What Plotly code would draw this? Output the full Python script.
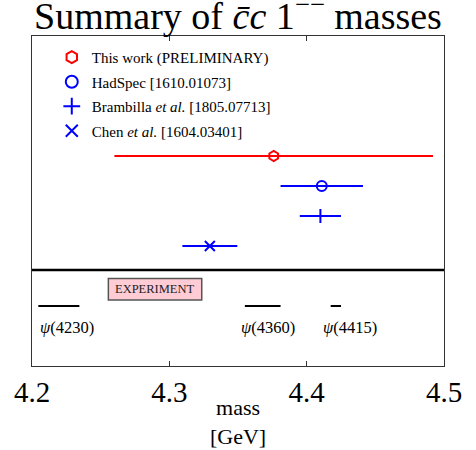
import plotly.graph_objects as go

# Lattice results: name, central mass, lower / upper error (GeV)
names = ["This work (PRELIMINARY)", "HadSpec [1610.01073]",
         "Brambilla <i>et al.</i> [1805.07713]", "Chen <i>et al.</i> [1604.03401]"]
mass = [4.376, 4.411, 4.410, 4.3295]
err_lo = [0.116, 0.030, 0.015, 0.020]
err_hi = [0.116, 0.030, 0.015, 0.020]
rows = [4, 3, 2, 1]
colors = ["#ff0000", "#0000ff", "#0000ff", "#0000ff"]
symbols = ["hexagon-open", "circle-open", "cross-thin", "x-thin"]
msizes = [10, 10, 10, 10]

# Experimental states: label, lower and upper extent (GeV)
exp_labels = ["<i>ψ</i>(4230)", "<i>ψ</i>(4360)", "<i>ψ</i>(4415)"]
exp_lo = [4.2046, 4.355, 4.4175]
exp_hi = [4.2345, 4.381, 4.425]
exp_label_x = [4.2046, 4.3505, 4.4105]

xticks = [4.2, 4.3, 4.4, 4.5]

FONT = "Liberation Serif"
fig = go.Figure()

for i, (n, m, lo, hi, r, c, s, ms) in enumerate(zip(names, mass, err_lo, err_hi, rows, colors, symbols, msizes)):
    fig.add_trace(go.Scatter(
        x=[m], y=[r], mode="markers", name=n, legendgroup=f"g{i}",
        marker=dict(symbol=s, size=ms, color=c, line=dict(color=c, width=2)),
        error_x=dict(type="data", symmetric=False, array=[hi], arrayminus=[lo],
                     color=c, thickness=2, width=0),
    ))

# experimental lines
ex, ey = [], []
for lo, hi in zip(exp_lo, exp_hi):
    ex += [lo, hi, None]
    ey += [-1, -1, None]
fig.add_trace(go.Scatter(x=ex, y=ey, mode="lines", line=dict(color="black", width=2),
                         showlegend=False, hoverinfo="skip"))

for lab, lx in zip(exp_labels, exp_label_x):
    fig.add_annotation(x=lx, y=-1.7, text=lab, showarrow=False, xanchor="left",
                       yanchor="middle", font=dict(family=FONT, size=16.5, color="black"))

# separator line
fig.add_shape(type="line", xref="paper", x0=0, x1=1, y0=0.2, y1=0.2,
              line=dict(color="black", width=2.5))
# experiment box
fig.add_shape(type="rect", x0=4.2556, x1=4.3236, y0=-0.08, y1=-0.8,
              fillcolor="#ffccd5", line=dict(color="#555555", width=1.5), layer="above")
fig.add_annotation(x=(4.2556 + 4.3236) / 2, y=-0.44, text="EXPERIMENT", showarrow=False,
                   font=dict(family=FONT, size=12.5, color="#222222"))

# axis title
fig.add_annotation(xref="paper", yref="paper", x=0.5, y=-0.17, yanchor="middle",
                   text="mass<br>[GeV]", showarrow=False,
                   font=dict(family=FONT, size=22, color="black"))

fig.update_layout(
    width=476, height=450,
    margin=dict(l=32, r=32, t=36, b=84),
    paper_bgcolor="white", plot_bgcolor="white",
    title=dict(text="Summary of <i>c̄c</i> 1<sup>−−</sup> masses", x=0.5, xanchor="center",
               y=0.966, yanchor="middle", pad=dict(t=0, b=0),
               font=dict(family=FONT, size=38, color="black")),
    showlegend=True,
    legend=dict(x=0.048, y=0.985, xanchor="left", yanchor="top", bgcolor="rgba(0,0,0,0)",
                font=dict(family=FONT, size=15, color="black"), tracegroupgap=2,
                itemsizing="constant"),
    font=dict(family=FONT, color="black"),
)
fig.update_xaxes(range=[4.2, 4.5], tickvals=xticks, ticktext=[f"{t:.1f}" for t in xticks],
                 ticks="inside", ticklen=5, tickcolor="#333", showline=True, linecolor="#333",
                 linewidth=1, mirror="ticks", showgrid=False, zeroline=False, automargin=False,
                 tickfont=dict(family=FONT, size=29, color="black"))
fig.update_yaxes(range=[-3, 8], showticklabels=False, ticks="", showline=True, linecolor="#333",
                 linewidth=1, mirror=True, showgrid=False, zeroline=False, automargin=False)

fig.write_html("out.html", config={"displayModeBar": False},
               post_script="document.body.style.margin='0';")
